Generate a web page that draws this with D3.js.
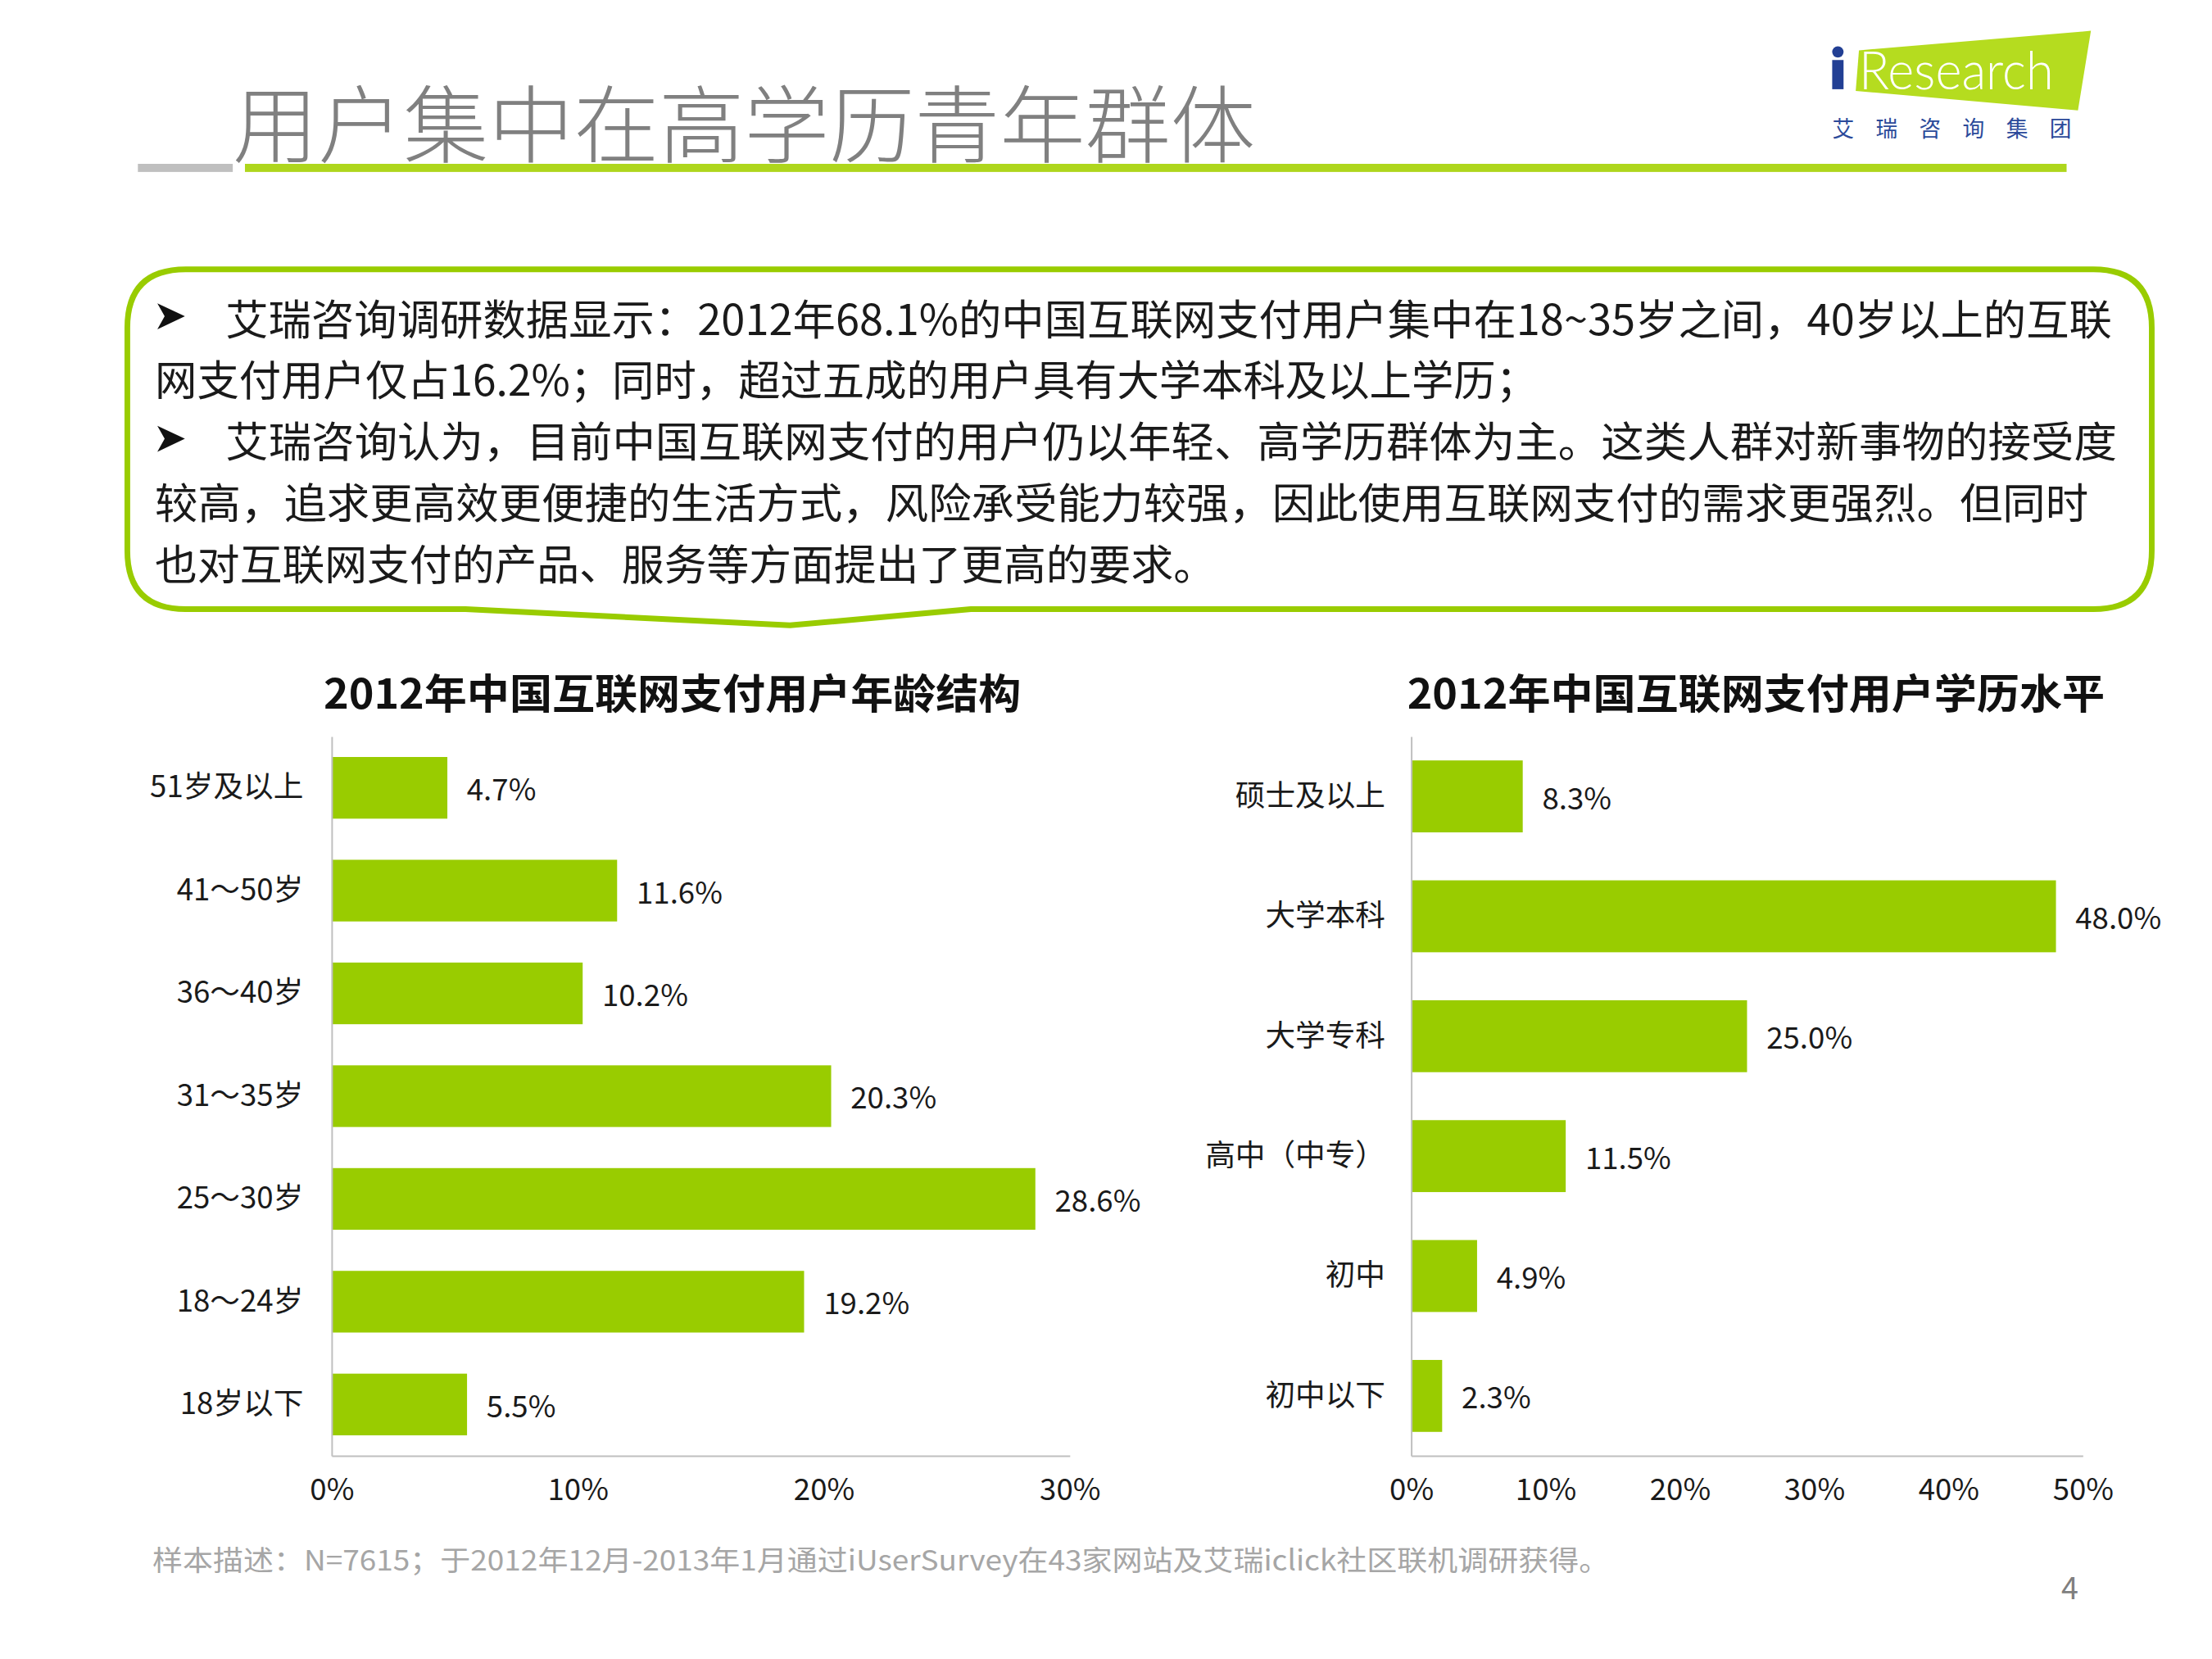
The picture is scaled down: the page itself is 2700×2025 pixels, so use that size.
<!DOCTYPE html>
<html>
<head>
<meta charset="utf-8">
<script src="https://cdn.jsdelivr.net/npm/d3@7"></script>
<style>
  body { margin: 0; background: #fff; }
  svg { display: block; font-family: "Noto Sans CJK SC", "Noto Sans", sans-serif; }
</style>
</head>
<body>
<div id="chart"></div>
<script>
// chart data
const ageCategories = ["51岁及以上", "41～50岁", "36～40岁", "31～35岁", "25～30岁", "18～24岁", "18岁以下"]
const ageValues = [4.7, 11.6, 10.2, 20.3, 28.6, 19.2, 5.5]
const ageTicks = [0, 10, 20, 30]

const eduCategories = ["硕士及以上", "大学本科", "大学专科", "高中（中专）", "初中", "初中以下"]
const eduValues = [8.3, 48.0, 25.0, 11.5, 4.9, 2.3]
const eduTicks = [0, 10, 20, 30, 40, 50]

const pageTitle = "用户集中在高学历青年群体"
const calloutLines = [
  { bullet: true, text: "艾瑞咨询调研数据显示：2012年68.1%的中国互联网支付用户集中在18~35岁之间，40岁以上的互联", x: 278, len: 2326 },
  { bullet: false, text: "网支付用户仅占16.2%；同时，超过五成的用户具有大学本科及以上学历；", x: 191, len: 1705 },
  { bullet: true, text: "艾瑞咨询认为，目前中国互联网支付的用户仍以年轻、高学历群体为主。这类人群对新事物的接受度", x: 278, len: 2332 },
  { bullet: false, text: "较高，追求更高效更便捷的生活方式，风险承受能力较强，因此使用互联网支付的需求更强烈。但同时", x: 191, len: 2384 },
  { bullet: false, text: "也对互联网支付的产品、服务等方面提出了更高的要求。", x: 191, len: 1308 }
]
const footnote = "样本描述：N=7615；于2012年12月-2013年1月通过iUserSurvey在43家网站及艾瑞iclick社区联机调研获得。"

const W = 2700, H = 2025
const barColor = "#99cc00"

const root = d3.select("#chart").append("svg")
  .attr("width", W)
  .attr("height", H)
  .attr("viewBox", [0, 0, W, H])

// layout was measured a touch large, shrink everything slightly
const svg = root.append("g").attr("transform", "scale(0.99)")

// header
svg.append("text")
  .attr("x", 287).attr("y", 148)
  .attr("dominant-baseline", "central")
  .attr("font-size", 104)
  .attr("font-weight", 300)
  .attr("fill", "#808080")
  .attr("textLength", 1261)
  .attr("lengthAdjust", "spacingAndGlyphs")
  .text(pageTitle)

svg.append("rect").attr("x", 170).attr("y", 202).attr("width", 117).attr("height", 10).attr("fill", "#bfbfbf")
svg.append("rect").attr("x", 302).attr("y", 202).attr("width", 2246).attr("height", 10).attr("fill", "#aed61c")

// logo
const logo = svg.append("g").attr("transform", "translate(22,0)")
logo.append("path")
  .attr("d", "M2270,62 L2556,38 L2540,136 L2266,112 Z")
  .attr("fill", "#b5dc1f")
logo.append("circle").attr("cx", 2244).attr("cy", 64).attr("r", 7).attr("fill", "#223f94")
logo.append("rect").attr("x", 2237).attr("y", 74).attr("width", 14).attr("height", 36).attr("fill", "#223f94")
logo.append("text")
  .attr("x", 2270).attr("y", 110)
  .attr("font-family", "Lato, 'Open Sans', sans-serif")
  .attr("font-size", 66)
  .attr("font-weight", 300)
  .attr("fill", "#fff")
  .attr("textLength", 240)
  .attr("lengthAdjust", "spacingAndGlyphs")
  .text("Research")
logo.append("text")
  .attr("x", 2237).attr("y", 157)
  .attr("dominant-baseline", "central")
  .attr("font-size", 27)
  .attr("fill", "#2b4a9a")
  .attr("textLength", 295)
  .attr("lengthAdjust", "spacing")
  .text("艾瑞咨询集团")

// callout box
const bx0 = 157, bx1 = 2653, by0 = 332, by1 = 751, r = 72
const callout = d3.path()
callout.moveTo(bx0 + r, by0)
callout.lineTo(bx1 - r, by0)
callout.quadraticCurveTo(bx1, by0, bx1, by0 + r)
callout.lineTo(bx1, by1 - r)
callout.quadraticCurveTo(bx1, by1, bx1 - r, by1)
callout.lineTo(1197, by1)
callout.lineTo(974, 771)
callout.lineTo(574, by1)
callout.lineTo(bx0 + r, by1)
callout.quadraticCurveTo(bx0, by1, bx0, by1 - r)
callout.lineTo(bx0, by0 + r)
callout.quadraticCurveTo(bx0, by0, bx0 + r, by0)
callout.closePath()

svg.append("path")
  .attr("d", callout.toString())
  .attr("fill", "#fff")
  .attr("stroke", barColor)
  .attr("stroke-width", 7)
  .attr("stroke-linejoin", "round")

const lineY = d3.scalePoint().domain(d3.range(calloutLines.length)).range([390, 692])

const lines = svg.append("g")
  .selectAll("g")
  .data(calloutLines)
  .join("g")
  .attr("transform", (d, i) => `translate(0,${lineY(i)})`)

// arrowhead bullets
lines.filter(d => d.bullet).append("path")
  .attr("d", "M194,-16 L228,0 L194,16 L203,0 Z")
  .attr("fill", "#111")

lines.append("text")
  .attr("x", d => d.x)
  .attr("dominant-baseline", "central")
  .attr("font-size", 52)
  .attr("fill", "#1a1a1a")
  .attr("textLength", d => d.len)
  .attr("lengthAdjust", "spacingAndGlyphs")
  .text(d => d.text)

// bar charts
function drawBarChart(cfg) {
  const g = svg.append("g")

  const x = d3.scaleLinear()
    .domain([0, d3.max(cfg.ticks)])
    .range([cfg.x0, cfg.x1])

  const y = d3.scaleBand()
    .domain(cfg.categories)
    .range([908, 1795])
    .paddingInner(0.4)
    .paddingOuter(0.2)

  g.append("text")
    .attr("x", cfg.titleX)
    .attr("y", 852)
    .attr("text-anchor", "middle")
    .attr("dominant-baseline", "central")
    .attr("font-size", 51)
    .attr("font-weight", 700)
    .attr("fill", "#111")
    .attr("textLength", 860)
    .attr("lengthAdjust", "spacingAndGlyphs")
    .text(cfg.title)

  const rows = cfg.categories.map((c, i) => ({ cat: c, value: cfg.values[i] }))

  g.selectAll("rect.bar")
    .data(rows)
    .join("rect")
    .attr("class", "bar")
    .attr("x", x(0))
    .attr("y", d => y(d.cat))
    .attr("width", d => x(d.value) - x(0))
    .attr("height", y.bandwidth())
    .attr("fill", barColor)

  g.selectAll("text.val")
    .data(rows)
    .join("text")
    .attr("class", "val")
    .attr("x", d => x(d.value) + 24)
    .attr("y", d => y(d.cat) + y.bandwidth() / 2)
    .attr("dominant-baseline", "central")
    .attr("font-size", 37)
    .attr("fill", "#1a1a1a")
    .text(d => d.value.toFixed(1) + "%")

  const xAxis = g.append("g")
    .attr("transform", `translate(0,1795)`)
    .call(d3.axisBottom(x).tickValues(cfg.ticks).tickFormat(d => d + "%").tickSize(0).tickPadding(28))
  xAxis.select(".domain").attr("stroke", "#bfbfbf").attr("stroke-width", 2)
  xAxis.selectAll("text").attr("font-size", 37).attr("fill", "#1a1a1a").attr("font-family", "'Noto Sans CJK SC', sans-serif")

  const yAxis = g.append("g")
    .attr("transform", `translate(${cfg.x0},0)`)
    .call(d3.axisLeft(y).tickSize(0).tickPadding(cfg.labelPad).tickSizeOuter(0))
  yAxis.select(".domain").attr("stroke", "#bfbfbf").attr("stroke-width", 2)
  yAxis.selectAll("text").attr("font-size", 37).attr("fill", "#1a1a1a").attr("font-family", "'Noto Sans CJK SC', sans-serif")
}

drawBarChart({
  categories: ageCategories,
  values: ageValues,
  ticks: ageTicks,
  x0: 409, x1: 1319,
  title: "2012年中国互联网支付用户年龄结构",
  titleX: 829,
  labelPad: 35
})

drawBarChart({
  categories: eduCategories,
  values: eduValues,
  ticks: eduTicks,
  x0: 1740, x1: 2568,
  title: "2012年中国互联网支付用户学历水平",
  titleX: 2165,
  labelPad: 32
})

// footer
svg.append("text")
  .attr("x", 188).attr("y", 1921)
  .attr("dominant-baseline", "central")
  .attr("font-size", 35)
  .attr("fill", "#a6a6a6")
  .attr("textLength", 1796)
  .attr("lengthAdjust", "spacingAndGlyphs")
  .text(footnote)

svg.append("text")
  .attr("x", 2552).attr("y", 1955)
  .attr("text-anchor", "middle")
  .attr("dominant-baseline", "central")
  .attr("font-size", 38)
  .attr("fill", "#7f7f7f")
  .text("4")
</script>
</body>
</html>
